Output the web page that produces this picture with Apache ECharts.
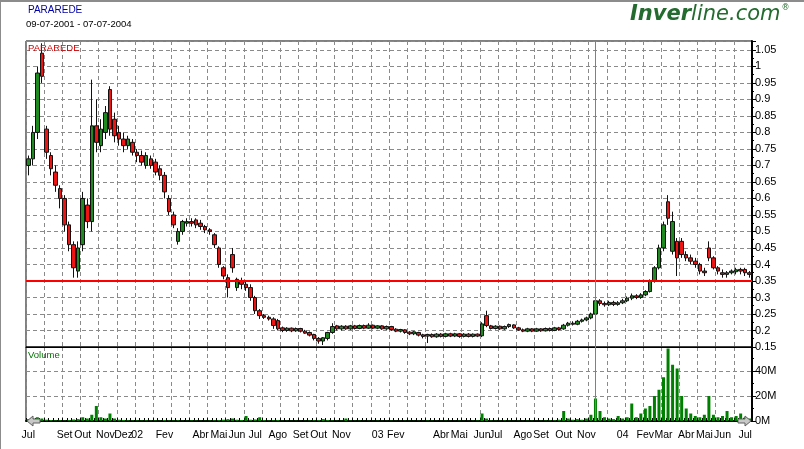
<!DOCTYPE html>
<html><head><meta charset="utf-8">
<script src="https://cdn.jsdelivr.net/npm/echarts/dist/echarts.min.js"></script>
<style>html,body{margin:0;padding:0;background:#fff;}#c{width:804px;height:449px;}</style>
</head><body><div id="c"></div>
<script>
// [open, close, low, high] per period
const ohlc = [
[0.70,0.72,0.67,0.73],[0.72,0.80,0.70,0.82],[0.80,0.98,0.78,1.00],[1.04,0.97,0.95,1.07],[0.81,0.74,0.72,0.82],
[0.73,0.69,0.67,0.74],[0.68,0.64,0.62,0.70],[0.63,0.60,0.57,0.64],[0.60,0.52,0.50,0.61],[0.52,0.46,0.44,0.53],
[0.46,0.39,0.36,0.47],[0.38,0.45,0.36,0.47],[0.46,0.60,0.44,0.62],[0.58,0.53,0.51,0.60],[0.53,0.82,0.50,0.96],
[0.82,0.77,0.74,0.90],[0.76,0.81,0.74,0.84],[0.80,0.86,0.78,0.88],[0.93,0.81,0.79,0.94],[0.84,0.79,0.77,0.86],
[0.80,0.78,0.76,0.82],[0.78,0.76,0.74,0.80],[0.76,0.78,0.75,0.79],[0.77,0.74,0.73,0.78],[0.74,0.73,0.71,0.75],
[0.73,0.71,0.70,0.745],[0.70,0.73,0.69,0.74],[0.72,0.70,0.69,0.73],[0.71,0.68,0.67,0.72],[0.69,0.67,0.655,0.70],
[0.67,0.62,0.60,0.68],[0.60,0.56,0.55,0.61],[0.55,0.52,0.51,0.56],[0.47,0.50,0.46,0.51],[0.50,0.53,0.49,0.535],
[0.525,0.53,0.515,0.54],[0.53,0.525,0.515,0.54],[0.535,0.52,0.51,0.54],[0.525,0.515,0.505,0.535],[0.515,0.505,0.495,0.52],
[0.505,0.50,0.49,0.51],[0.49,0.46,0.45,0.495],[0.45,0.40,0.39,0.455],[0.39,0.365,0.355,0.395],[0.36,0.33,0.30,0.37],
[0.43,0.39,0.375,0.45],[0.33,0.355,0.32,0.36],[0.35,0.34,0.325,0.36],[0.34,0.33,0.32,0.35],[0.33,0.30,0.29,0.34],
[0.30,0.26,0.25,0.305],[0.26,0.245,0.235,0.265],[0.245,0.24,0.235,0.25],[0.24,0.235,0.23,0.245],[0.235,0.215,0.205,0.24],
[0.23,0.205,0.20,0.235],[0.208,0.200,0.195,0.212],[0.200,0.207,0.196,0.210],[0.207,0.199,0.195,0.209],[0.199,0.206,0.196,0.209],
[0.206,0.198,0.194,0.208],[0.198,0.192,0.19,0.202],[0.194,0.186,0.182,0.197],[0.188,0.176,0.17,0.19],[0.176,0.168,0.16,0.18],
[0.168,0.178,0.156,0.18],[0.176,0.194,0.17,0.196],[0.194,0.212,0.19,0.222],[0.214,0.205,0.20,0.217],[0.205,0.213,0.20,0.216],
[0.213,0.205,0.202,0.216],[0.205,0.214,0.202,0.217],[0.214,0.206,0.203,0.217],[0.206,0.215,0.204,0.218],[0.215,0.207,0.204,0.218],
[0.207,0.216,0.205,0.222],[0.216,0.207,0.204,0.218],[0.207,0.214,0.204,0.216],[0.214,0.205,0.202,0.216],[0.205,0.212,0.202,0.215],
[0.212,0.203,0.199,0.214],[0.204,0.198,0.195,0.207],[0.198,0.203,0.194,0.205],[0.202,0.194,0.19,0.204],[0.195,0.19,0.186,0.198],
[0.19,0.196,0.186,0.198],[0.194,0.186,0.182,0.196],[0.187,0.182,0.176,0.19],[0.183,0.188,0.162,0.19],[0.188,0.181,0.178,0.191],
[0.181,0.189,0.178,0.192],[0.189,0.182,0.179,0.192],[0.182,0.19,0.179,0.193],[0.19,0.183,0.18,0.193],[0.183,0.19,0.18,0.193],
[0.19,0.182,0.178,0.192],[0.182,0.189,0.179,0.192],[0.189,0.182,0.179,0.192],[0.182,0.189,0.179,0.191],[0.189,0.183,0.18,0.191],
[0.184,0.22,0.18,0.225],[0.245,0.215,0.21,0.26],[0.214,0.206,0.203,0.217],[0.206,0.213,0.203,0.216],[0.213,0.205,0.202,0.215],
[0.205,0.212,0.202,0.215],[0.212,0.218,0.208,0.221],[0.217,0.208,0.205,0.219],[0.208,0.202,0.199,0.211],[0.202,0.198,0.195,0.206],
[0.198,0.205,0.195,0.208],[0.205,0.198,0.195,0.207],[0.198,0.205,0.196,0.208],[0.205,0.199,0.196,0.207],[0.199,0.206,0.197,0.209],
[0.206,0.2,0.197,0.209],[0.2,0.208,0.198,0.211],[0.208,0.203,0.2,0.211],[0.205,0.216,0.202,0.22],[0.216,0.222,0.212,0.226],
[0.222,0.219,0.215,0.228],[0.219,0.228,0.216,0.232],[0.228,0.232,0.224,0.236],[0.232,0.238,0.228,0.242],[0.238,0.25,0.234,0.254],
[0.25,0.29,0.246,0.31],[0.29,0.282,0.275,0.295],[0.282,0.278,0.272,0.288],[0.278,0.285,0.274,0.29],[0.285,0.279,0.274,0.29],
[0.279,0.284,0.275,0.289],[0.284,0.29,0.28,0.296],[0.29,0.298,0.286,0.303],[0.298,0.305,0.292,0.312],[0.305,0.3,0.295,0.31],
[0.3,0.308,0.296,0.313],[0.308,0.318,0.304,0.322],[0.318,0.35,0.315,0.355],[0.35,0.39,0.345,0.395],[0.39,0.45,0.385,0.46],
[0.45,0.52,0.44,0.53],[0.59,0.54,0.52,0.61],[0.44,0.53,0.43,0.56],[0.47,0.42,0.365,0.48],[0.47,0.43,0.42,0.48],
[0.43,0.42,0.41,0.44],[0.42,0.41,0.40,0.43],[0.41,0.40,0.39,0.42],[0.40,0.38,0.37,0.405],[0.38,0.375,0.365,0.39],
[0.45,0.42,0.41,0.47],[0.42,0.39,0.385,0.425],[0.39,0.38,0.37,0.395],[0.375,0.37,0.36,0.385],[0.37,0.375,0.36,0.38],
[0.375,0.38,0.37,0.385],[0.378,0.384,0.37,0.39],[0.385,0.38,0.37,0.39],[0.385,0.375,0.365,0.39],[0.375,0.37,0.36,0.38]
];
// volume in millions per period
const volume = [
1.5,2,3,2,1,0.8,0.5,0.6,0.4,0.8,
1.2,1.5,3,2,5,12,3,2,6,2,
1,0.8,0.6,0.5,0.5,0.4,0.6,0.4,0.5,0.3,
0.8,0.5,0.4,0.6,0.3,0.3,0.5,0.4,0.3,0.3,
0.4,0.6,0.8,1,1.5,2,1,0.8,4,1,
1.2,3,0.8,0.5,0.6,0.8,0.3,0.3,0.2,0.3,
0.2,0.3,0.4,0.6,0.8,1.5,0.8,0.5,0.3,0.3,
2,0.4,0.3,0.3,0.2,0.3,0.2,0.3,0.2,0.2,
0.3,0.2,0.2,0.3,0.2,0.2,0.3,0.2,0.4,0.3,
0.2,0.2,0.3,0.2,0.2,0.3,0.2,0.2,0.3,0.4,
6,2,0.4,0.3,0.3,0.5,0.3,0.2,0.3,0.2,
0.3,0.3,0.2,0.3,0.4,0.5,0.6,1,8,2,
1,1.5,1,2,5,18,8,3,2,1.5,
4,2,3,14,3,6,10,12,20,25,
35,58,45,42,20,10,6,4,3,5,
20,5,3,4,8,3,4,6,3,2
];
const tickIndex = [0,8,12,17,21,24,30,38,42,46,50,55,60,64,69,77,81,91,95,100,103,109,113,118,123,131,136,140,145,149,153,158];
const tickText  = ['Jul','Set','Out','Nov','Dez','02','Fev','Abr','Mai','Jun','Jul','Ago','Set','Out','Nov','03','Fev','Abr','Mai','Jun','Jul','Ago','Set','Out','Nov','04','Fev','Mar','Abr','Mai','Jun','Jul'];
const refLevel = 0.35;
const cursorIndex = 125;
const categories = ohlc.map((d, i) => String(i));
const tickMap = {};
tickIndex.forEach((k, i) => { tickMap[k] = tickText[i]; });

const FONT = 'Liberation Sans, Arial, sans-serif';
const dash = [4, 3];
const chart = echarts.init(document.getElementById('c'), null, {renderer: 'canvas'});
chart.setOption({
  animation: false,
  backgroundColor: '#fff',
  grid: [
    {left: 26, right: 52, top: 41, height: 306, show: true, borderColor: '#000', borderWidth: 1, outerBoundsMode: 'none'},
    {left: 26, right: 52, top: 347, height: 74, show: true, borderColor: '#000', borderWidth: 1, outerBoundsMode: 'none'}
  ],
  xAxis: [
    {type: 'category', gridIndex: 0, data: categories, boundaryGap: true,
     axisLine: {show: true, lineStyle: {color: '#000', width: 1}}, axisTick: {show: false}, axisLabel: {show: false},
     splitLine: {show: true, interval: 3, lineStyle: {color: '#8a8a8a', type: dash, width: 1}}},
    {type: 'category', gridIndex: 1, data: categories, boundaryGap: true,
     axisLine: {show: true, lineStyle: {color: '#000', width: 2}},
     axisTick: {show: true, inside: true, length: 3, interval: 0, lineStyle: {color: '#000'}},
     axisLabel: {show: true, interval: (i) => tickMap[i] !== undefined, formatter: (v, i) => tickMap[i] || '',
       fontSize: 10.5, fontFamily: FONT, color: '#000', margin: 9},
     splitLine: {show: true, interval: 3, lineStyle: {color: '#8a8a8a', type: dash, width: 1}}}
  ],
  yAxis: [
    {type: 'value', gridIndex: 0, position: 'right', min: 0.15, max: 1.077, interval: 0.05,
     axisLine: {show: true, lineStyle: {color: '#000', width: 2}},
     axisTick: {show: true, length: 4, lineStyle: {color: '#000'}},
     minorTick: {show: true, splitNumber: 2, length: 2, lineStyle: {color: '#000'}},
     axisLabel: {fontSize: 11, fontFamily: FONT, color: '#000', margin: 3, showMaxLabel: false},
     splitLine: {show: true, lineStyle: {color: '#8a8a8a', type: dash, width: 1}}},
    {type: 'value', gridIndex: 1, position: 'right', min: 0, max: 59.2, interval: 20,
     axisLine: {show: true, lineStyle: {color: '#000', width: 2}},
     axisTick: {show: true, length: 4, lineStyle: {color: '#000'}},
     minorTick: {show: true, splitNumber: 2, length: 2, lineStyle: {color: '#000'}},
     axisLabel: {fontSize: 11, fontFamily: FONT, color: '#000', margin: 3, showMaxLabel: false, formatter: (v) => v + 'M'},
     splitLine: {show: true, lineStyle: {color: '#8a8a8a', type: dash, width: 1}}}
  ],
  series: [
    {type: 'candlestick', xAxisIndex: 0, yAxisIndex: 0, data: ohlc, barWidth: 4,
     itemStyle: {color: '#1f8a1f', color0: '#ee1414', borderColor: '#111', borderColor0: '#111', borderWidth: 1},
     markLine: {silent: true, symbol: ['none', 'none'], label: {show: false}, animation: false,
       data: [
         {yAxis: refLevel, lineStyle: {color: '#ff0000', width: 2, type: 'solid'}},
         {xAxis: cursorIndex, lineStyle: {color: '#808080', width: 1, type: 'solid'}}
       ]}},
    {type: 'bar', xAxisIndex: 1, yAxisIndex: 1, data: volume, barWidth: 3, itemStyle: {color: '#008000'},
     markLine: {silent: true, symbol: ['none', 'none'], label: {show: false}, animation: false,
       data: [{xAxis: cursorIndex, lineStyle: {color: '#808080', width: 1, type: 'solid'}}]}}
  ],
  graphic: [
    {type: 'rect', left: 0, top: 0, shape: {width: 804, height: 2}, style: {fill: '#8c8c8c'}, z: 100},
    {type: 'rect', left: 0, top: 0, shape: {width: 1, height: 449}, style: {fill: '#8c8c8c'}, z: 100},
    {type: 'text', left: 28, top: 5, style: {text: 'PARAREDE', fill: '#0000a8', font: '10px ' + FONT}, z: 100},
    {type: 'text', left: 26, top: 19, style: {text: '09-07-2001 - 07-07-2004', fill: '#000', font: '9.5px ' + FONT}, z: 100},
    {type: 'text', left: 28, top: 43, style: {text: 'PARAREDE', fill: '#d00000', font: '9.5px ' + FONT}, z: 100},
    {type: 'text', left: 28, top: 350, style: {text: 'Volume', fill: '#007000', font: '9.5px ' + FONT}, z: 100},
    {type: 'text', left: 630, top: 4, z: 100, style: {
      text: '{b|Inver}{n|line.com}{r|®}',
      rich: {
        b: {fontFamily: 'DejaVu Sans', fontSize: 21, fontWeight: 'bold', fontStyle: 'italic', fill: '#236b2e', color: '#236b2e'},
        n: {fontFamily: 'DejaVu Sans', fontSize: 21, fontStyle: 'italic', fill: '#236b2e', color: '#236b2e'},
        r: {fontFamily: 'DejaVu Sans', fontSize: 8, fill: '#236b2e', color: '#236b2e', verticalAlign: 'top', padding: [0, 0, 12, 1]}
      }}},
    {type: 'polygon', z: 100, shape: {points: [[27,421],[33,416],[33,419],[40,419],[40,423],[33,423],[33,426]]},
     style: {fill: '#c8c8c8', stroke: '#606060', lineWidth: 1}},
    {type: 'polygon', z: 100, shape: {points: [[751,421],[745,416],[745,419],[738,419],[738,423],[745,423],[745,426]]},
     style: {fill: '#c8c8c8', stroke: '#606060', lineWidth: 1}}
  ]
});
</script></body></html>
